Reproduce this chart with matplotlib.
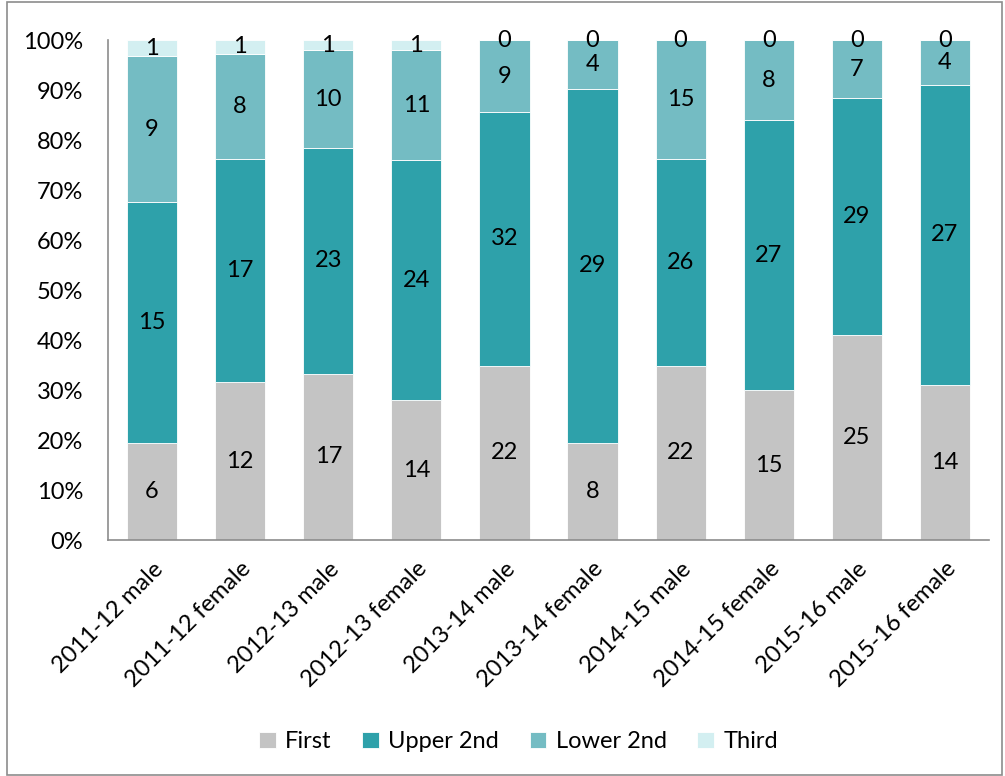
import matplotlib
matplotlib.use("Agg")
import matplotlib.pyplot as plt
import numpy as np
from matplotlib.patches import Rectangle

plt.rcParams['font.family'] = ['Lato', 'DejaVu Sans']

categories = ["2011-12 male", "2011-12 female", "2012-13 male", "2012-13 female",
              "2013-14 male", "2013-14 female", "2014-15 male", "2014-15 female",
              "2015-16 male", "2015-16 female"]
first = [6, 12, 17, 14, 22, 8, 22, 15, 25, 14]
upper2 = [15, 17, 23, 24, 32, 29, 26, 27, 29, 27]
lower2 = [9, 8, 10, 11, 9, 4, 15, 8, 7, 4]
third = [1, 1, 1, 1, 0, 0, 0, 0, 0, 0]
series_names = ["First", "Upper 2nd", "Lower 2nd", "Third"]
colors = ["#C4C4C4", "#2EA1AA", "#74BCC3", "#D3EFF1"]

series = [np.array(first, float), np.array(upper2, float),
          np.array(lower2, float), np.array(third, float)]
totals = sum(series)

FS = 17

fig = plt.figure(figsize=(10.05, 7.76), dpi=100)
ax = fig.add_axes([0.1075, 0.304, 0.8765, 0.644])

x = np.arange(len(categories))
bottom = np.zeros(len(categories))
for vals, name, col in zip(series, series_names, colors):
    pct = vals / totals * 100
    ax.bar(x, pct, bottom=bottom, width=0.57, color=col, label=name,
           edgecolor='white', linewidth=0.6)
    for xi, b, p, v in zip(x, bottom, pct, vals):
        ax.text(xi, b + p / 2, f"{int(v)}", ha='center', va='center', fontsize=FS, color='black')
    bottom = bottom + pct

ax.set_xlim(-0.5, len(categories) - 0.5)
ax.set_ylim(0, 100)
ax.set_yticks(np.arange(0, 101, 10))
ax.set_yticklabels([f"{v}%" for v in range(0, 101, 10)], fontsize=FS)
ax.set_xticks(x)
ax.set_xticklabels(categories, rotation=45, ha='right', rotation_mode='anchor', fontsize=FS)
ax.tick_params(axis='y', length=0, pad=18)
ax.tick_params(axis='x', length=0, pad=13)
for s in ['top', 'right']:
    ax.spines[s].set_visible(False)
for s in ['left', 'bottom']:
    ax.spines[s].set_color('#8C8C8C')
    ax.spines[s].set_linewidth(1.2)

leg = fig.legend(loc='center', bbox_to_anchor=(0.516, 0.044), ncol=4, frameon=False,
                 fontsize=FS, handlelength=0.7, handleheight=0.7, handletextpad=0.4,
                 columnspacing=1.3)

fig.patches.append(Rectangle((0.007, 0.001), 0.99, 0.997, transform=fig.transFigure,
                             fill=False, edgecolor='#8C8C8C', linewidth=1.2))

fig.savefig("out.png", dpi=100)
